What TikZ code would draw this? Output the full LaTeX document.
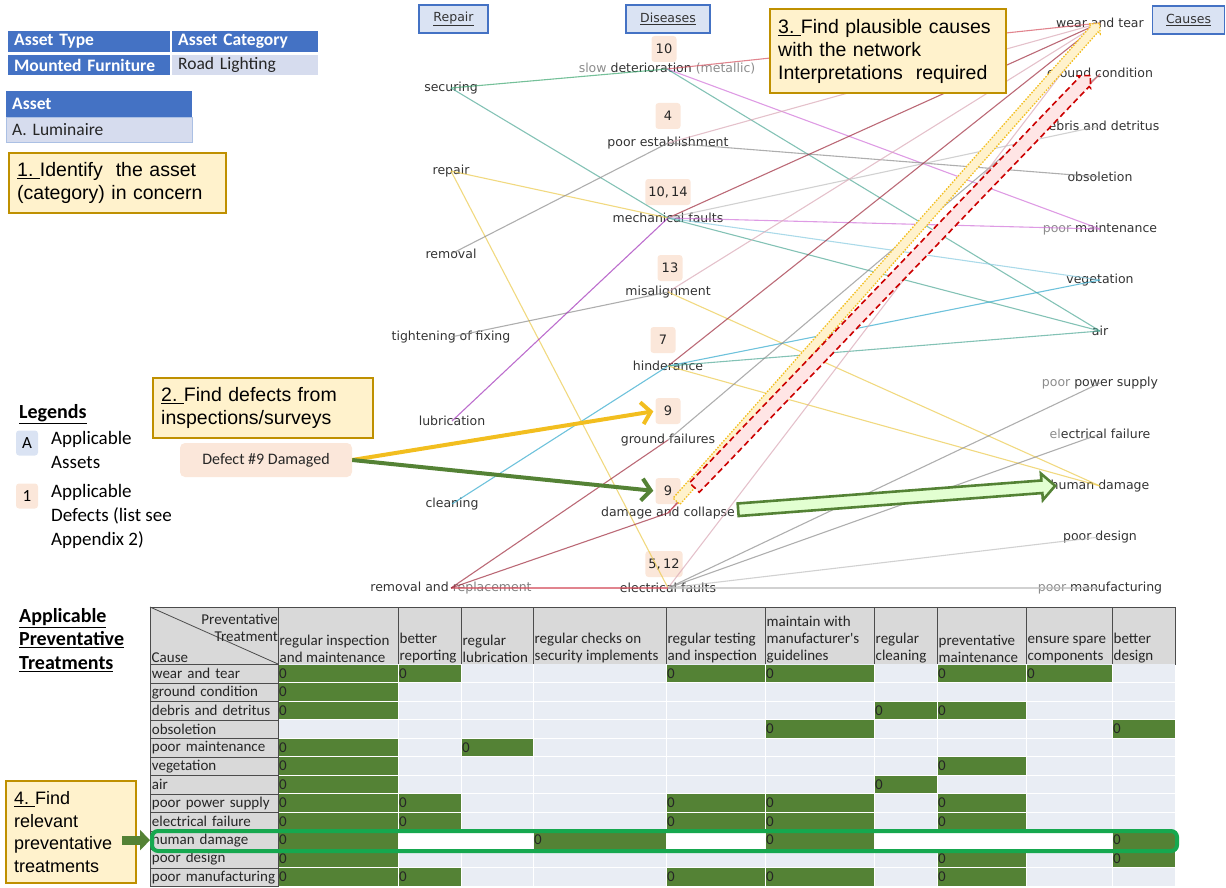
\documentclass[tikz,border=0pt]{standalone}
\usepackage{fontspec}
\setmainfont{Liberation Sans}
\newfontfamily\netfont{DejaVu Sans}
\newfontfamily\calfont{Carlito}
\usetikzlibrary{arrows.meta,positioning,shapes.arrows,calc}

\definecolor{hdblue}{HTML}{4472C4}
\definecolor{hdfill}{HTML}{DAE3F3}
\definecolor{lightcell}{HTML}{D6DCEE}
\definecolor{stepfill}{HTML}{FFF2CC}
\definecolor{stepdraw}{HTML}{BF9000}
\definecolor{peach}{HTML}{FBE7DA}
\definecolor{leafgreen}{HTML}{548235}
\definecolor{hlgreen}{HTML}{16A84F}
\definecolor{gridgray}{HTML}{D9D9D9}
\definecolor{datacell}{HTML}{E9EDF4}
\definecolor{gold}{HTML}{F2BE1F}
\definecolor{egreen}{HTML}{3AA56E}
\definecolor{eteal}{HTML}{4FA896}
\definecolor{eyellow}{HTML}{EBC94A}
\definecolor{egray}{HTML}{8C8C8C}
\definecolor{elgray}{HTML}{BDBDBD}
\definecolor{epurple}{HTML}{A030B8}
\definecolor{emagenta}{HTML}{D070D8}
\definecolor{ecyan}{HTML}{30A8CC}
\definecolor{elcyan}{HTML}{88CBE0}
\definecolor{edarkred}{HTML}{9E2A3C}
\definecolor{ered}{HTML}{D4505E}
\definecolor{epink}{HTML}{D9A7B5}

\def\colx{{150,278,398,461,533,666,765,874,937,1026,1112,1175}}

\begin{document}
\begin{tikzpicture}[x=1pt, y=-1pt,
  lbl/.style={font=\netfont\fontsize{12.5}{15}\selectfont, text=black!80, inner sep=1pt},
  badge/.style={fill=peach, rounded corners=3pt, font=\netfont\fontsize{13}{15}\selectfont,
                text=black!85, minimum width=25pt, minimum height=26pt, inner sep=3pt},
  colhead/.style={draw=hdblue, line width=1.6pt, fill=hdfill, minimum height=28pt,
                  font=\netfont\fontsize{12.5}{15}\selectfont, text=black!80},
  stepbox/.style={draw=stepdraw, line width=2.4pt, fill=stepfill, anchor=north west,
                  align=left, inner xsep=8pt, font=\fontsize{19.5}{23}\selectfont},
  bluecell/.style={anchor=north west, fill=hdblue, text=white, align=left, inner xsep=6pt,
                   inner ysep=0pt, font=\calfont\bfseries\fontsize{17.5}{20}\selectfont},
  palecell/.style={bluecell, fill=lightcell, text=black!85, font=\calfont\fontsize{17.5}{20}\selectfont},
  legtitle/.style={font=\calfont\bfseries\fontsize{20}{23.5}\selectfont, align=left, inner sep=1pt},
  legtext/.style={font=\calfont\fontsize{19}{24}\selectfont, align=left, inner sep=1pt},
  legbadge/.style={rounded corners=3pt, minimum width=22pt, minimum height=25pt, inner sep=1pt,
                   font=\calfont\fontsize{17}{20}\selectfont},
  edge/.style={line width=1.1pt, opacity=0.7},
  pick/.style={line width=4pt, -{Straight Barb[length=9pt, width=22pt]}, shorten >=2pt},
  tabtxt/.style={font=\calfont\fontsize{15}{17}\selectfont, text=black!85},
  causecell/.style={tabtxt, anchor=north west, draw=black!70, line width=0.8pt, fill=gridgray,
                    minimum height=18.5pt, text width=125pt, inner xsep=1.5pt, inner ysep=0pt, align=left},
  headtxt/.style={tabtxt, anchor=south west, align=left, inner xsep=1.5pt, inner ysep=1pt},
  zero/.style={tabtxt, anchor=west, inner xsep=1pt},
  tabrule/.style={draw=black!70, line width=0.8pt},
]
\useasboundingbox (0,0) rectangle (1226,888);

% asset selection tables
\node[bluecell, text width=150pt, minimum height=21pt] (atype) at (8,31) {Asset Type};
\node[bluecell, text width=134pt, minimum height=21pt] (acat) at (172,31) {Asset Category};
\node[bluecell, text width=150pt, minimum height=20pt] (afurn) at (8,55) {Mounted Furniture};
\node[palecell, text width=134pt, minimum height=20pt] (alight) at (172,55) {Road Lighting};
\node[bluecell, text width=174pt, minimum height=26pt] (ahead) at (6,91) {Asset};
\node[palecell, draw=hdblue!45, text width=174pt, minimum height=25pt] (alum) at (6,117) {A. Luminaire};

% legends
\node[legtitle, anchor=west] (legends) at (18,414) {\underline{Legends}};
\node[legbadge, fill=hdfill] (legA) at (27,443) {A};
\node[legtext, anchor=north west] (legAtxt) at (50,430) {Applicable\\Assets};
\node[legbadge, fill=peach] (leg1) at (27,496) {1};
\node[legtext, anchor=north west] (leg1txt) at (50,483) {Applicable\\Defects (list see\\Appendix 2)};
\node[legtitle, anchor=north west] (treattitle) at (18,607)
  {\underline{Applicable}\\\underline{Preventative}\\\underline{Treatments}};

% column headers of the network
\node[colhead, minimum width=69pt] (hRepair) at (453.5,19) {\underline{Repair}};
\node[colhead, minimum width=84pt] (hDiseases) at (668,19) {\underline{Diseases}};
\node[colhead, minimum width=72pt] (hCauses) at (1188.5,20) {\underline{Causes}};

% repairs
\node[lbl] (securing) at (451,88) {securing};
\node[lbl] (repair) at (451,171) {repair};
\node[lbl] (removal) at (451,254) {removal};
\node[lbl] (tightening) at (451,337) {tightening of fixing};
\node[lbl] (lubrication) at (452,421) {lubrication};
\node[lbl] (cleaning) at (452,504) {cleaning};
\node[lbl] (replacement) at (451,588) {removal and {\color{black!50}replacement}};

% diseases with their defect numbers
\node[badge] (b10) at (664,49) {10};
\node[lbl] (slowdet) at (667,69) {{\color{black!45}slow} deterioration {\color{black!45}(metallic)}};
\node[badge] (b4) at (668,116) {4};
\node[lbl] (poorest) at (668,143) {poor establishment};
\node[badge] (b1014) at (668,192) {10,\,14};
\node[lbl] (mechanical) at (668,218) {mechanical faults};
\node[badge] (b13) at (670,268) {13};
\node[lbl] (misalign) at (668,292) {misalignment};
\node[badge] (b7) at (663,340) {7};
\node[lbl] (hinder) at (668,366) {hinderance};
\node[badge] (b9a) at (668,411) {9};
\node[lbl] (groundfail) at (668,440) {ground failures};
\node[badge] (b9b) at (668,491) {9};
\node[lbl] (collapse) at (668,513) {damage and collapse};
\node[badge] (b512) at (664,564) {5,\,12};
\node[lbl] (electrical) at (668,588) {electrical faults};

% causes
\node[lbl] (weartear) at (1100,23) {wear and tear};
\node[lbl] (groundcond) at (1100,74) {ground condition};
\node[lbl] (debris) at (1100,126) {debris and detritus};
\node[lbl] (obsoletion) at (1100,177) {obsoletion};
\node[lbl] (poormaint) at (1100,229) {{\color{black!45}poor} maintenance};
\node[lbl] (vegetation) at (1100,280) {vegetation};
\node[lbl] (air) at (1100,331) {air};
\node[lbl] (powersupply) at (1100,383) {{\color{black!45}poor} power supply};
\node[lbl] (elecfail) at (1100,434) {{\color{black!45}el}ectrical failure};
\node[lbl] (humandmg) at (1100,486) {human damage};
\node[lbl] (poordesign) at (1100,537) {poor design};
\node[lbl] (poormanuf) at (1100,588) {{\color{black!45}poor} manufacturing};

% repair -- disease links
\draw[edge, egreen] (securing.center) -- (slowdet.center);
\draw[edge, eteal] (securing.center) -- (mechanical.center);
\draw[edge, eyellow] (repair.center) -- (mechanical.center);
\draw[edge, eyellow] (repair.center) -- (electrical.center);
\draw[edge, egray] (removal.center) -- (poorest.center);
\draw[edge, egray] (tightening.center) -- (misalign.center);
\draw[edge, epurple] (lubrication.center) -- (mechanical.center);
\draw[edge, ecyan] (cleaning.center) -- (hinder.center);
\draw[edge, ered] (replacement.center) -- (electrical.center);
\draw[edge, edarkred] (replacement.center) -- (collapse.center);
\draw[edge, edarkred] (replacement.center) -- (groundfail.center);

% disease -- cause links
\draw[edge, ered] (slowdet.center) -- (weartear.center);
\draw[edge, emagenta] (slowdet.center) -- (poormaint.center);
\draw[edge, eteal] (slowdet.center) -- (air.center);
\draw[edge, egray] (poorest.center) -- (obsoletion.center);
\draw[edge, epink] (poorest.center) -- (weartear.center);
\draw[edge, edarkred] (mechanical.center) -- (weartear.center);
\draw[edge, elgray] (mechanical.center) -- (debris.center);
\draw[edge, emagenta] (mechanical.center) -- (poormaint.center);
\draw[edge, elcyan] (mechanical.center) -- (vegetation.center);
\draw[edge, eteal] (mechanical.center) -- (air.center);
\draw[edge, epink] (misalign.center) -- (weartear.center);
\draw[edge, eyellow] (misalign.center) -- (humandmg.center);
\draw[edge, edarkred] (hinder.center) -- (weartear.center);
\draw[edge, ecyan] (hinder.center) -- (vegetation.center);
\draw[edge, eteal] (hinder.center) -- (air.center);
\draw[edge, eyellow] (hinder.center) -- (humandmg.center);
\draw[edge, egray] (groundfail.center) -- (groundcond.center);
\draw[edge, edarkred] (collapse.center) -- (weartear.center);
\draw[edge, ered] (collapse.center) -- (groundcond.center);
\draw[edge, epink] (electrical.center) -- (weartear.center);
\draw[edge, egray] (electrical.center) -- (powersupply.center);
\draw[edge, egray] (electrical.center) -- (elecfail.center);
\draw[edge, elgray] (electrical.center) -- (poordesign.center);
\draw[edge, elgray] (electrical.center) -- (poormanuf.center);

% the defect found and where it points
\node[fill=peach, rounded corners=5pt, minimum width=172pt, minimum height=34pt,
      font=\calfont\fontsize{16}{18}\selectfont, text=black!85] (defect) at (266,460) {Defect \#9 Damaged};
\draw[pick, gold] (defect.east) -- (b9a.west);
\draw[pick, leafgreen] (defect.east) -- (b9b.west);

% highlighted interpretations
\coordinate (ybase) at (675,503);
\coordinate (ytip) at (1098,25);
\coordinate (rbase) at (692,490);
\coordinate (rtip) at (1088,78);
\coordinate (gbase) at (735,510);
\coordinate (gtip) at (1052,486);
\path let \p1=($(ytip)-(ybase)$), \n1={veclen(\x1,\y1)}, \n2={atan2(\y1,\x1)} in
  node[single arrow, draw=gold, line width=1.3pt, dash pattern=on 1.5pt off 1.5pt, fill=stepfill,
       inner sep=4pt, single arrow head extend=3pt, minimum height=\n1, rotate=\n2]
  (yband) at ($(ybase)!0.5!(ytip)$) {};
\path let \p1=($(rtip)-(rbase)$), \n1={veclen(\x1,\y1)}, \n2={atan2(\y1,\x1)} in
  node[single arrow, draw=red!80!black, line width=1.6pt, dash pattern=on 6pt off 3.5pt, fill=red!10,
       inner sep=6pt, single arrow head extend=2pt, minimum height=\n1, rotate=\n2]
  (rband) at ($(rbase)!0.5!(rtip)$) {};
\path let \p1=($(gtip)-(gbase)$), \n1={veclen(\x1,\y1)}, \n2={atan2(\y1,\x1)} in
  node[single arrow, draw=leafgreen, line width=2.6pt, fill=green!50!lime!18,
       inner sep=5pt, single arrow head extend=7pt, minimum height=\n1, rotate=\n2]
  (gband) at ($(gbase)!0.5!(gtip)$) {};

% the four steps
\node[stepbox, text width=201pt, minimum height=60pt] (step1) at (8,152)
  {\underline{1.\ }Identify\ \ the asset\\(category) in concern};
\node[stepbox, text width=204pt, minimum height=60pt] (step2) at (152,377)
  {\underline{2.\ }Find defects from\\inspections/surveys};
\node[stepbox, text width=220pt, minimum height=84pt] (step3) at (769,8)
  {\underline{3.\ }Find plausible causes\\with the network\\Interpretations\ \ required};
\node[stepbox, text width=114pt, minimum height=102pt, font=\fontsize{18}{22.5}\selectfont] (step4) at (5,780)
  {\underline{4.\ }Find\\relevant\\preventative\\treatments};

% treatment table: header
\foreach \c in {0,...,10} {
  \pgfmathsetmacro\xa{\colx[\c]}
  \pgfmathsetmacro\xb{\colx[\c+1]}
  \draw[tabrule, fill=gridgray] (\xa,607) rectangle (\xb,664);
}
\draw[tabrule] (150,607) -- (278,664);
\node[tabtxt, anchor=north east, align=right, inner sep=1pt] (prevtreat) at (279,613) {Preventative\\Treatment};
\node[headtxt] (causehead) at (150,664) {Cause};
\foreach \c/\txt in {1/{regular inspection\\and maintenance}, 2/{better\\reporting}, 3/{regular\\lubrication},
                     4/{regular checks on\\security implements}, 5/{regular testing\\and inspection},
                     6/{maintain with\\manufacturer's\\guidelines}, 7/{regular\\cleaning},
                     8/{preventative\\maintenance}, 9/{ensure spare\\components}, 10/{better\\design}} {
  \pgfmathsetmacro\xa{\colx[\c]}
  \node[headtxt] (head\c) at (\xa,664) {\txt};
}

% treatment table: body
\fill[datacell] (278,664) rectangle (1175,886);
\fill[white] (278,830.5) rectangle (1175,849);
\foreach \x in {398,461,533,666,765,874,937,1026,1112}
  \draw[white, line width=1pt] (\x,664) -- (\x,886);
\foreach \r in {1,...,11}
  \draw[white, line width=1pt] (278,{664+18.5*\r}) -- (1175,{664+18.5*\r});
\foreach \cause [count=\r from 0] in {wear and tear, ground condition, debris and detritus, obsoletion,
    poor maintenance, vegetation, air, poor power supply, electrical failure, human damage,
    poor design, poor manufacturing}
  \node[causecell] (cause\r) at (150,{664+18.5*\r}) {\mbox{\cause}};
\foreach \r/\c in {0/1,0/2,0/5,0/6,0/8,0/9, 1/1, 2/1,2/7,2/8, 3/6,3/10, 4/1,4/3, 5/1,5/8, 6/1,6/7,
                   7/1,7/2,7/5,7/6,7/8, 8/1,8/2,8/5,8/6,8/8, 9/1,9/4,9/6,9/10, 10/1,10/8,10/10,
                   11/1,11/2,11/5,11/6,11/8} {
  \pgfmathsetmacro\xa{\colx[\c]}
  \pgfmathsetmacro\xb{\colx[\c+1]}
  \pgfmathsetmacro\ya{664+18.5*\r}
  \fill[leafgreen] ({\xa+0.5},{\ya+0.5}) rectangle ({\xb-0.5},{\ya+18});
  \node[zero] (z\r-\c) at (\xa,{\ya+9.5}) {0};
}

% the row that answers the question
\draw[hlgreen, line width=4pt, rounded corners=6pt] (152,831) rectangle (1177,851);
\draw[leafgreen, line width=9pt, -{Triangle[length=10pt, width=20pt]}]
  ([xshift=-15pt]step4.east |- cause9.west) -- (cause9.west);

\end{tikzpicture}
\end{document}
